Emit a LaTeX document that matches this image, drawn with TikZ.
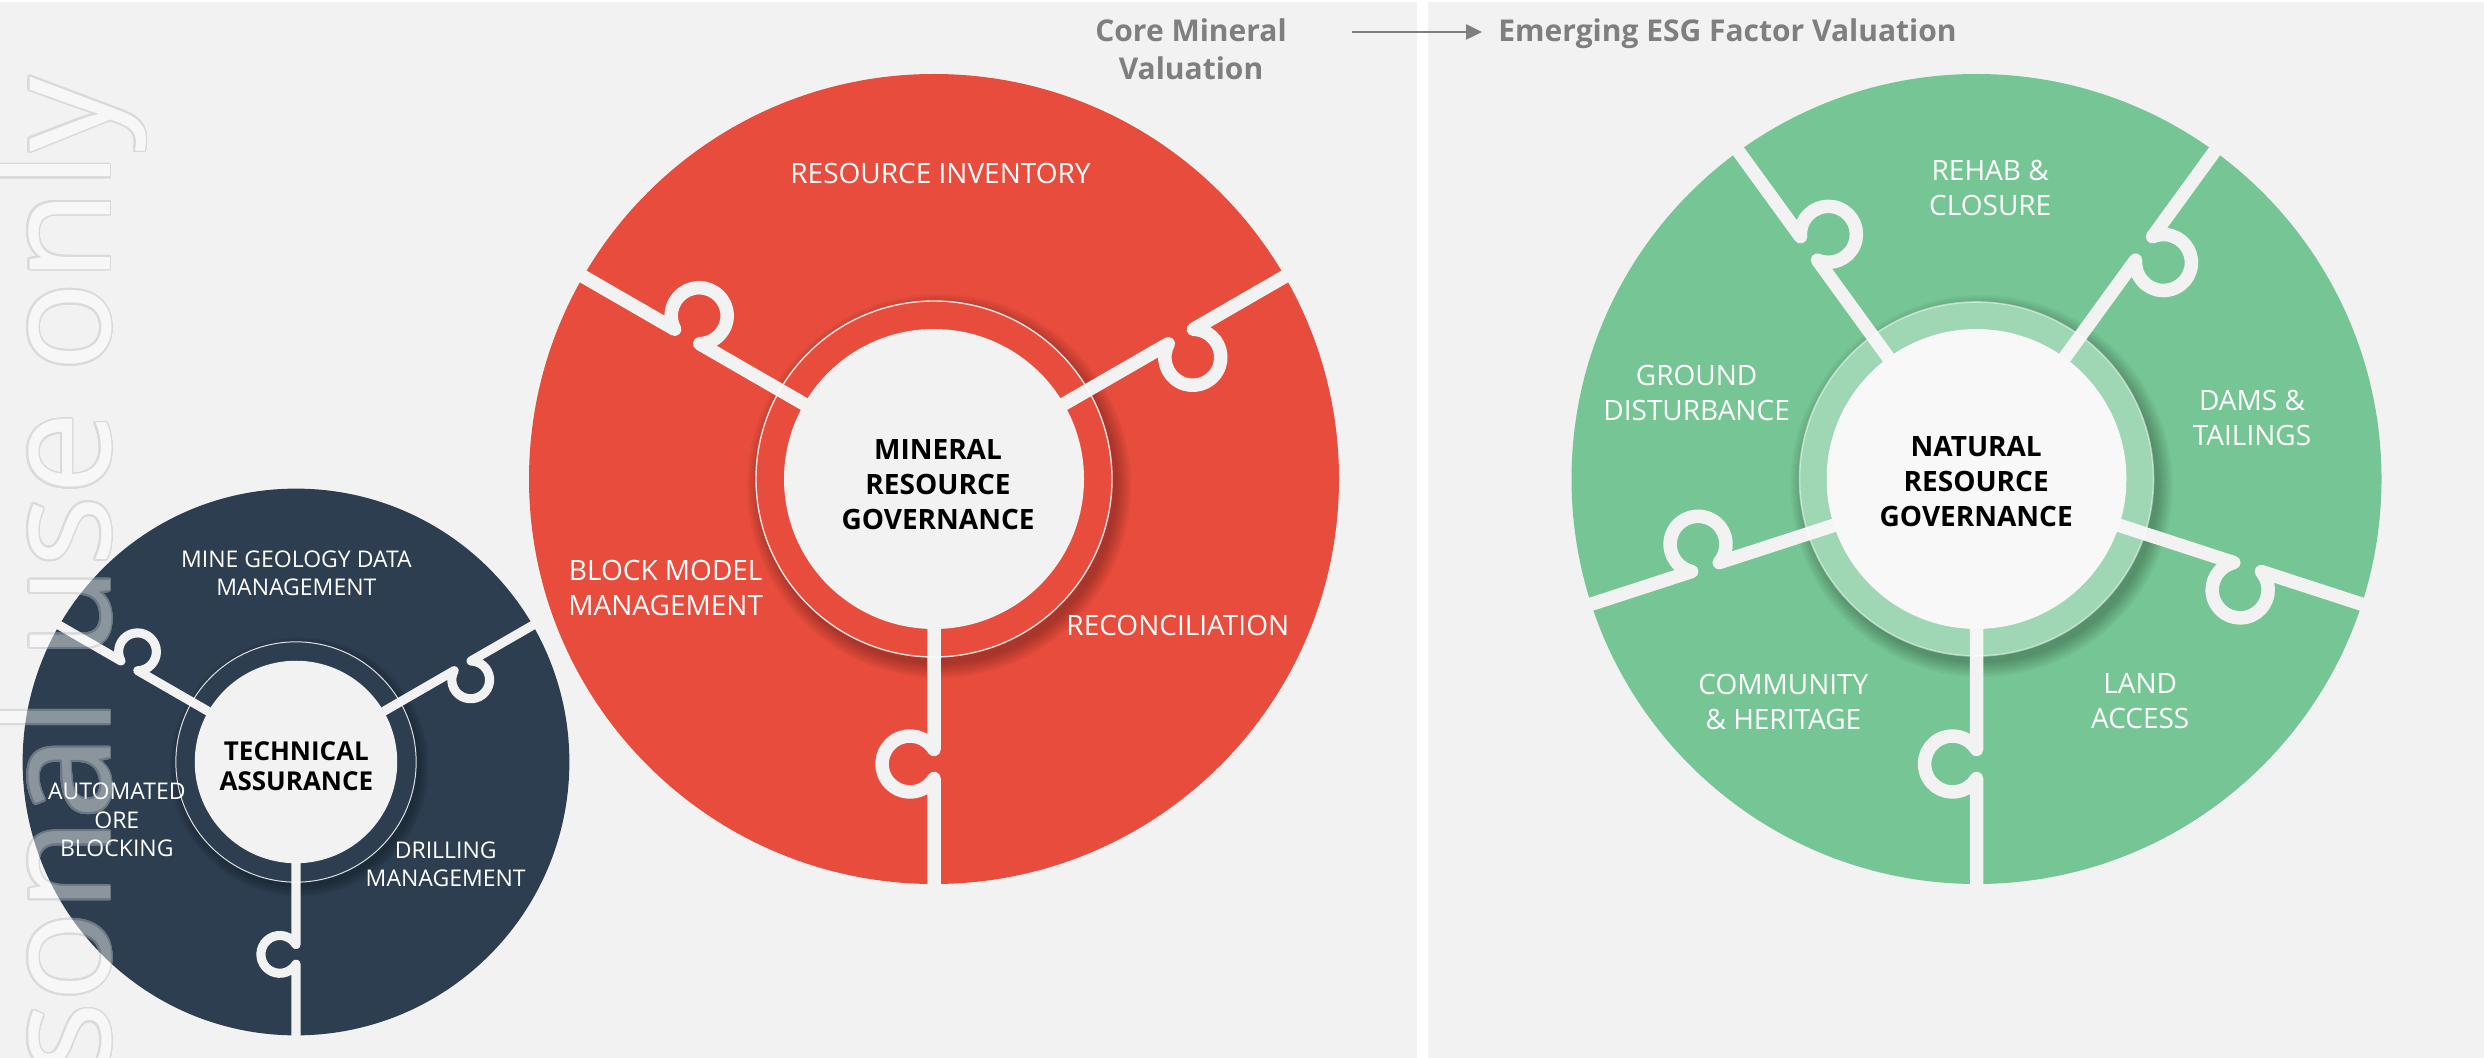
\documentclass[tikz,border=0pt]{standalone}
\usepackage{fontspec}
\setmainfont{Open Sans}
\usepackage[copies]{contour}
\contourlength{0.9pt}
\contournumber{32}
\usetikzlibrary{arrows.meta}
\definecolor{bg}{HTML}{F2F2F2}
\definecolor{redc}{HTML}{E74C3C}
\definecolor{greenc}{HTML}{76C594}
\definecolor{darkc}{HTML}{2C3E50}
\definecolor{headgrey}{HTML}{7F7F7F}
\definecolor{wmline}{HTML}{BEBEBE}
\begin{document}
\begin{tikzpicture}[x=0.5pt,y=0.5pt,
  gapline/.style={draw=bg, line width=#1, line join=round},
  ringline/.style={draw=white, draw opacity=0.85, line width=#1},
  lbl/.style={text=white, align=center, inner sep=0pt, font=\fontsize{14}{17.5}\selectfont},
  lblsmall/.style={text=white, align=center, inner sep=0pt, font=\fontsize{11.5}{14.2}\selectfont},
  hub/.style={text=black, align=center, inner sep=0pt, font=\bfseries\fontsize{14}{17.5}\selectfont},
  hubsmall/.style={text=black, align=center, inner sep=0pt, font=\bfseries\fontsize{13}{15}\selectfont},
  head/.style={text=headgrey, align=center, inner sep=0pt, font=\bfseries\fontsize{15}{19.15}\selectfont},
  headarrow/.style={draw=headgrey, line width=1.25pt, -{Triangle[length=8pt,width=7.5pt]}},
  wm/.style={inner sep=0pt, font=\fontsize{75}{80}\selectfont},
  shadowdisc/.style={fill=black, fill opacity=0.035}
]
\useasboundingbox (0,0) rectangle (2484,-1058);
\fill[bg] (0,0) rectangle (2484,-1058);
\fill[white] (0,0) rectangle (2484,-2);
\fill[white] (1417,0) rectangle (1428,-1058);

% ---------- red puzzle ----------
\begin{scope}[shift={(934,-479)}]
  \fill[redc] (0,0) circle (405);
  \begin{scope}[even odd rule]
    \clip (0,0) circle (405) (0,0) circle (178);
    \foreach \r in {178,180,...,192} \fill[shadowdisc] (5,-7) circle (\r);
  \end{scope}
  \foreach \a in {-90,30,150}
    \draw[gapline=6.75pt, rotate=\a] (140,0) -- (270.58,0)
      arc[start angle=121,end angle=419,radius=28] -- (410,0);
  \draw[ringline=0.7pt] (0,0) circle (178);
  \fill[bg] (0,0) circle (150);
\end{scope}
\node[lbl] (ri) at (940.5,-173) {RESOURCE INVENTORY};
\node[lbl] (bm) at (665.7,-587.5) {BLOCK MODEL\\MANAGEMENT};
\node[lbl] (rc) at (1177.8,-625.2) {RECONCILIATION};
\node[hub] (mrg) at (938,-484.3) {MINERAL\\RESOURCE\\GOVERNANCE};

% ---------- green puzzle ----------
\begin{scope}[shift={(1976.5,-479)}]
  \fill[greenc] (0,0) circle (405);
  \begin{scope}[even odd rule]
    \clip (0,0) circle (405) (0,0) circle (177);
    \foreach \r in {177,179,...,191} \fill[shadowdisc] (5,-7) circle (\r);
  \end{scope}
  \foreach \a in {-90,-18,54,126,198}
    \draw[gapline=6.75pt, rotate=\a] (140,0) -- (270.58,0)
      arc[start angle=121,end angle=419,radius=28] -- (410,0);
  \fill[white, fill opacity=0.3, even odd rule] (0,0) circle (177) (0,0) circle (150);
  \draw[ringline=0.8pt, draw opacity=0.5] (0,0) circle (177);
  \fill[white!45!bg] (0,0) circle (150);
\end{scope}
\node[lbl] (rh) at (1990.2,-188.3) {REHAB \&\\CLOSURE};
\node[lbl] (gd) at (1696.6,-392.9) {GROUND\\DISTURBANCE};
\node[lbl] (dt) at (2252,-417.9) {DAMS \&\\TAILINGS};
\node[lbl] (ch) at (1783.4,-701.5) {COMMUNITY\\\& HERITAGE};
\node[lbl] (la) at (2140.2,-701.5) {LAND\\ACCESS};
\node[hub] (nrg) at (1976.2,-481.4) {NATURAL\\RESOURCE\\GOVERNANCE};

% ---------- dark puzzle ----------
\begin{scope}[shift={(296,-762)}, scale=0.675]
  \fill[darkc] (0,0) circle (405);
  \begin{scope}[even odd rule]
    \clip (0,0) circle (405) (0,0) circle (178);
    \foreach \r in {178,180,...,192} \fill[shadowdisc] (5,-7) circle (\r);
  \end{scope}
  \foreach \a in {-90,30,150}
    \draw[gapline=4.55pt, rotate=\a] (140,0) -- (270.58,0)
      arc[start angle=121,end angle=419,radius=28] -- (410,0);
  \draw[ringline=0.5pt] (0,0) circle (178);
  \fill[bg] (0,0) circle (150);
\end{scope}
\node[lblsmall] (mg) at (296.4,-573.5) {MINE GEOLOGY DATA\\MANAGEMENT};
\node[hubsmall] (ta) at (296.4,-766) {TECHNICAL\\ASSURANCE};
\node[lblsmall] (ao) at (116.8,-820) {AUTOMATED\\ORE\\BLOCKING};
\node[lblsmall] (dm) at (445.7,-864.3) {DRILLING\\MANAGEMENT};

% ---------- header ----------
\node[head] (core) at (1191,-49.5) {Core Mineral\\Valuation};
\node[head, anchor=base west] (esg) at (1498,-41.7) {Emerging ESG Factor Valuation};
\coordinate (arrowstart) at (1352,-32);
\draw[headarrow, shorten >=8pt] (arrowstart) -- (arrowstart -| esg.west);

% ---------- watermark ----------
\begin{scope}[transparency group, opacity=0.45]
  \node[wm, rotate=90, anchor=base east] (wmark) at (110,-76)
    {\color{white}\contour{wmline}{Personal use only}};
\end{scope}
\end{tikzpicture}
\end{document}
